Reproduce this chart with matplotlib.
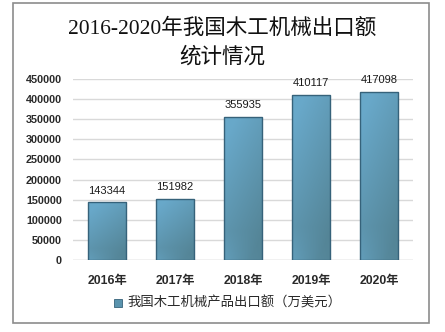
import numpy as np
import matplotlib
matplotlib.use("Agg")
import matplotlib.pyplot as plt
from matplotlib.patches import Rectangle

plt.rcParams['font.family'] = ['Liberation Sans', 'Noto Sans CJK SC', 'DejaVu Sans']

years = ["2016年", "2017年", "2018年", "2019年", "2020年"]
export_values = [143344, 151982, 355935, 410117, 417098]
y_ticks = [0, 50000, 100000, 150000, 200000, 250000, 300000, 350000, 400000, 450000]
series_name = "我国木工机械产品出口额（万美元）"
title_lines = ["2016-2020年我国木工机械出口额", "统计情况"]

W, H = 445, 332
fig = plt.figure(figsize=(W / 100, H / 100), dpi=100)

# outer frame
fig.patches.append(Rectangle((13 / W, 1 - 323 / H), (429 - 13) / W, (323 - 3) / H,
                             transform=fig.transFigure, fill=False,
                             edgecolor="#8c8c8c", linewidth=1.2))

ax = fig.add_axes([73 / W, 1 - 260 / H, (413 - 73) / W, (260 - 79) / H])

# gradient image used to fill each bar (row 0 is the top of the bar)
ny, nx = 200, 60
yy, xx = np.mgrid[0:1:ny * 1j, 0:1:nx * 1j]
t = np.clip(0.85 * yy + 0.45 * xx - 0.15, 0, 1)
t = np.where(yy > 0.8, t - (yy - 0.8) * 2.0 * (1 - xx), t)
t = np.clip(t, 0, 1)
top = np.array([0.41, 0.66, 0.79])
bot = np.array([0.33, 0.52, 0.59])
grad = top[None, None, :] * (1 - t[..., None]) + bot[None, None, :] * t[..., None]

bars = ax.bar(range(len(years)), export_values, width=0.57,
              facecolor="none", edgecolor="#36627a", linewidth=1.0, zorder=3)
for b in bars:
    x0, w, h = b.get_x(), b.get_width(), b.get_height()
    im = ax.imshow(grad, extent=[x0, x0 + w, 0, h], origin="upper",
                   aspect="auto", zorder=2)
    im.set_clip_path(b)
    ax.text(x0 + w / 2, h + 17000, f"{h:d}", ha="center", va="bottom",
            fontsize=8, color="#1a1a1a")
ax.set_xlim(-0.5, len(years) - 0.5)
ax.set_ylim(0, 450000)

ax.set_yticks(y_ticks)
ax.set_yticklabels([str(v) for v in y_ticks], fontsize=7.8, fontweight="bold",
                   color="#2a2a2a")
ax.set_xticks(range(len(years)))
ax.set_xticklabels(years, fontsize=8.8, fontweight="bold", color="#2a2a2a")
ax.tick_params(axis="y", length=0, pad=8)
ax.tick_params(axis="x", length=0, pad=11)
ax.yaxis.grid(True, color="#d9d9d9", linewidth=1.0, zorder=0)
for s in ax.spines.values():
    s.set_visible(False)
ax.axhline(0, color="#d9d9d9", linewidth=1.0, zorder=1)

for line, yc in zip(title_lines, (29, 57)):
    fig.text(222 / W, 1 - yc / H, line, ha="center", va="center",
             fontsize=15.5, fontweight="medium",
             family=["Liberation Serif", "Noto Sans CJK SC"], color="#111111")

# legend
lx, ly = 118, 303
fig.patches.append(Rectangle(((lx - 4) / W, 1 - (ly + 4) / H), 8 / W, 8 / H,
                             transform=fig.transFigure, facecolor="#5a93ad",
                             edgecolor="#36627a", linewidth=0.6))
fig.text((lx + 9) / W, 1 - ly / H, series_name, ha="left", va="center",
         fontsize=9.6, color="#2a2a2a")

fig.savefig("out.png", dpi=100)
